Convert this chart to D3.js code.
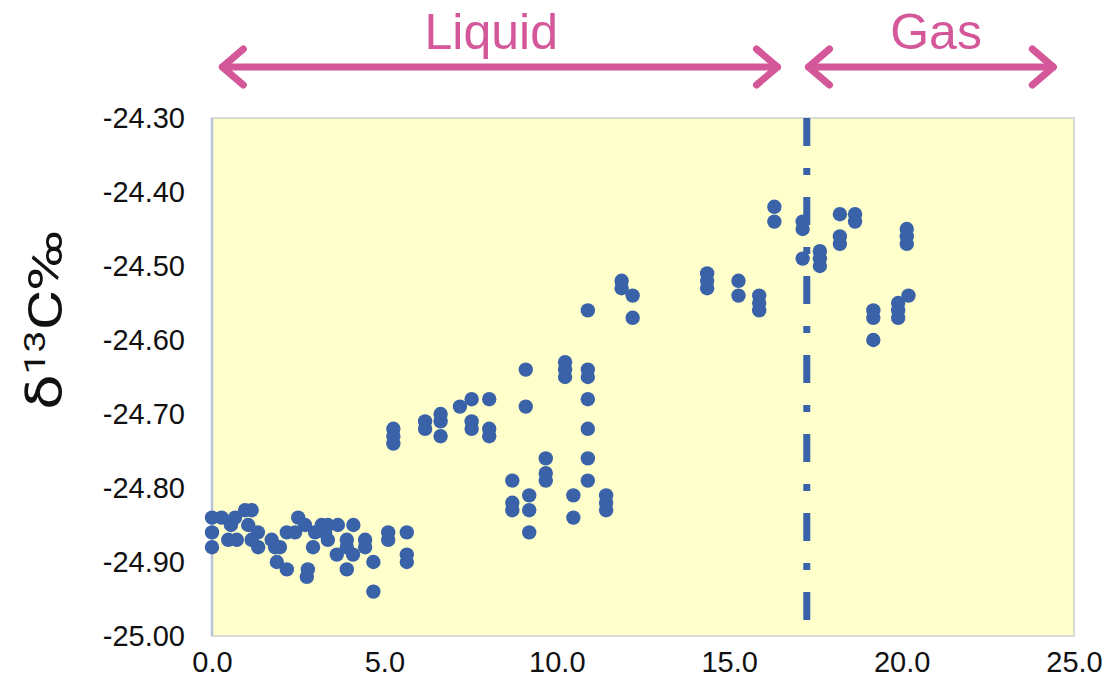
<!DOCTYPE html>
<html>
<head>
<meta charset="utf-8">
<script src="https://cdn.jsdelivr.net/npm/d3@7"></script>
<style>
  body { margin: 0; background: #fff; }
  svg { display: block; }
</style>
</head>
<body>
<svg id="chart" width="1109" height="686"></svg>
<script>
var depth = [
  0.0, 0.0, 0.0, 0.28, 0.67, 0.96, 1.15, 0.47, 0.72, 1.33, 1.15, 1.34, 1.73, 1.83, 1.97, 1.88,
  2.17, 2.17, 2.50, 2.70, 3.18, 3.36, 3.65, 2.93, 3.36, 2.78, 2.75, 3.62, 3.91, 3.91, 4.09, 3.91,
  4.10, 4.44, 4.44, 4.68, 4.68, 5.11, 5.11, 5.65, 5.65, 5.65, 2.41, 2.99, 3.28, 0.55, 1.05,
  5.26, 5.26, 5.26, 6.18, 6.18, 6.63, 6.63, 6.63, 7.19, 7.53, 7.53, 7.53, 8.04, 8.04, 8.04,
  8.71, 8.71, 8.71, 9.10, 9.10, 9.20, 9.20, 9.20, 9.68, 9.68, 9.68, 10.24, 10.24, 10.24,
  10.48, 10.48, 10.90, 10.90, 10.90, 10.90, 10.90, 10.90, 10.90, 11.43, 11.43, 11.43,
  11.88, 11.88, 12.20, 12.20, 14.36, 14.36, 14.36, 15.27, 15.27, 15.87, 15.87, 15.87,
  16.31, 16.31, 17.13, 17.13, 17.13, 17.63, 17.63, 17.63, 18.21, 18.21, 18.21, 18.65, 18.65,
  19.18, 19.18, 19.18, 19.90, 19.90, 19.90, 20.15, 20.15, 20.15, 20.20
];
var delta13C = [
  -24.84, -24.86, -24.88, -24.84, -24.84, -24.83, -24.83, -24.87, -24.87, -24.86, -24.87, -24.88, -24.87, -24.88, -24.88, -24.90,
  -24.91, -24.86, -24.84, -24.85, -24.85, -24.85, -24.85, -24.88, -24.87, -24.91, -24.92, -24.89, -24.87, -24.88, -24.89, -24.91,
  -24.85, -24.87, -24.88, -24.90, -24.94, -24.86, -24.87, -24.86, -24.89, -24.90, -24.86, -24.86, -24.86, -24.85, -24.85,
  -24.72, -24.73, -24.74, -24.71, -24.72, -24.70, -24.71, -24.73, -24.69, -24.68, -24.71, -24.72, -24.68, -24.72, -24.73,
  -24.79, -24.82, -24.83, -24.64, -24.69, -24.81, -24.83, -24.86, -24.76, -24.78, -24.79, -24.63, -24.64, -24.65,
  -24.81, -24.84, -24.56, -24.64, -24.65, -24.68, -24.72, -24.76, -24.79, -24.81, -24.82, -24.83,
  -24.52, -24.53, -24.54, -24.57, -24.51, -24.52, -24.53, -24.52, -24.54, -24.54, -24.55, -24.56,
  -24.42, -24.44, -24.44, -24.45, -24.49, -24.48, -24.49, -24.50, -24.43, -24.46, -24.47, -24.43, -24.44,
  -24.56, -24.57, -24.60, -24.55, -24.56, -24.57, -24.45, -24.46, -24.47, -24.54
];

var xTicks = [0, 5, 10, 15, 20, 25];
var yTicks = [-25.0, -24.9, -24.8, -24.7, -24.6, -24.5, -24.4, -24.3];

var phaseNames = ["Liquid", "Gas"];
var phaseStart = [0.3, 17.3];
var phaseEnd = [16.4, 24.4];
var phaseLabelAt = [8.1, 21.0];
var boundary = 17.25;

var pink = "#d4579a";
var blue = "#3a62a8";

var svg = d3.select("#chart");

var x = d3.scaleLinear().domain([0, 25]).range([212, 1074]);
var y = d3.scaleLinear().domain([-25.0, -24.3]).range([636, 118]);

// plot background
svg.append("rect")
  .attr("x", x(0)).attr("y", y(-24.3))
  .attr("width", x(25) - x(0)).attr("height", y(-25) - y(-24.3))
  .attr("fill", "#ffffcc")
  .attr("stroke", "#cfcfcf")
  .attr("stroke-width", 1.5);

svg.append("line")
  .attr("x1", x(0)).attr("x2", x(0))
  .attr("y1", y(-24.3)).attr("y2", y(-25))
  .attr("stroke", "#b8c4da")
  .attr("stroke-width", 2.5);

// axes
var yAxis = d3.axisLeft(y)
  .tickValues(yTicks)
  .tickFormat(function(d) { return d.toFixed(2); })
  .tickSize(0)
  .tickPadding(27);

var gy = svg.append("g").attr("transform", "translate(" + x(0) + ",0)").call(yAxis);
gy.select(".domain").remove();
gy.selectAll("text")
  .attr("font-family", "Liberation Sans, Arial, sans-serif")
  .attr("font-size", 29)
  .attr("fill", "#111");

var xAxis = d3.axisBottom(x)
  .tickValues(xTicks)
  .tickFormat(function(d) { return d.toFixed(1); })
  .tickSize(0)
  .tickPadding(15);

var gx = svg.append("g").attr("transform", "translate(0," + y(-25) + ")").call(xAxis);
gx.select(".domain").remove();
gx.selectAll("text")
  .attr("font-family", "Liberation Sans, Arial, sans-serif")
  .attr("font-size", 29)
  .attr("fill", "#111");

// phase boundary
svg.append("line")
  .attr("x1", x(boundary)).attr("x2", x(boundary))
  .attr("y1", y(-24.3)).attr("y2", y(-25))
  .attr("stroke", blue)
  .attr("stroke-width", 7)
  .attr("stroke-dasharray", "28,22,7,22");

// points
var pts = depth.map(function(d, i) { return [d, delta13C[i]]; });
svg.append("g").selectAll("circle")
  .data(pts)
  .enter().append("circle")
  .attr("cx", function(d) { return x(d[0]); })
  .attr("cy", function(d) { return y(d[1]); })
  .attr("r", 7.2)
  .attr("fill", blue);

// phase arrows
var arrowY = 67, headDx = 21, headDy = 18;
phaseNames.forEach(function(name, i) {
  var x0 = x(phaseStart[i]), x1 = x(phaseEnd[i]);
  var g = svg.append("g")
    .attr("fill", "none")
    .attr("stroke", pink)
    .attr("stroke-width", 7)
    .attr("stroke-linecap", "round")
    .attr("stroke-linejoin", "round");
  g.append("path").attr("d", "M" + x0 + "," + arrowY + "L" + x1 + "," + arrowY);
  g.append("path").attr("d", "M" + (x0 + headDx) + "," + (arrowY - headDy) + "L" + x0 + "," + arrowY + "L" + (x0 + headDx) + "," + (arrowY + headDy));
  g.append("path").attr("d", "M" + (x1 - headDx) + "," + (arrowY - headDy) + "L" + x1 + "," + arrowY + "L" + (x1 - headDx) + "," + (arrowY + headDy));

  svg.append("text")
    .attr("x", x(phaseLabelAt[i]))
    .attr("y", 49)
    .attr("text-anchor", "middle")
    .attr("font-family", "Liberation Sans, Arial, sans-serif")
    .attr("font-size", 50)
    .attr("fill", pink)
    .text(name);
});

// y axis title (stretched along its length like the reference)
var title = svg.append("text")
  .attr("transform", "translate(62,320) rotate(-90) scale(1.3,1)")
  .attr("text-anchor", "middle")
  .attr("font-family", "Roboto, sans-serif")
  .attr("font-size", 48)
  .attr("fill", "#111");
title.append("tspan").text("δ");
title.append("tspan").attr("font-size", 30).attr("dy", -17).text("13");
title.append("tspan").attr("dy", 17).text("C‰");
</script>
</body>
</html>
